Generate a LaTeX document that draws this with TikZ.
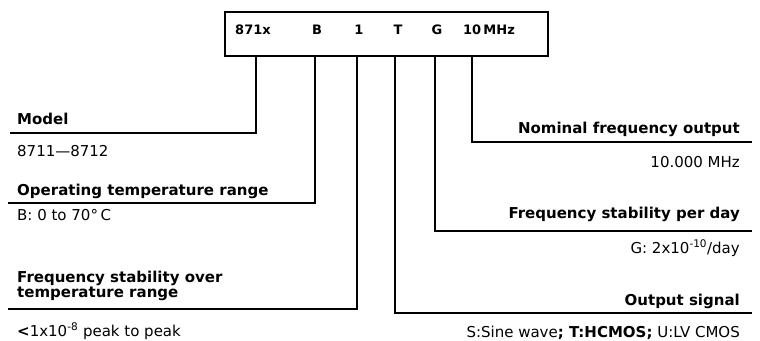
\documentclass[tikz,border=0pt]{standalone}
\usepackage{fontspec}
\setmainfont{DejaVu Sans}

\begin{document}
\begin{tikzpicture}[
    x=1pt, y=-1pt,
    codebox/.style={
        draw,
        line width=1.2pt,
        minimum width=323pt,
        minimum height=44pt,
        inner sep=0pt,
    },
    code/.style={
        font=\fontsize{13}{15}\selectfont\bfseries,
        inner sep=0pt,
        anchor=base,
    },
    title/.style={
        font=\fontsize{15}{15}\selectfont\bfseries,
        inner sep=0pt,
        align=left,
    },
    value/.style={
        font=\fontsize{15}{15}\selectfont,
        inner sep=0pt,
    },
    lin/.style={line width=1.2pt},
]
\useasboundingbox (0,0) rectangle (760,340);

\node[codebox] (box) at (386.5,34) {};
\node[code] (model) at (253,34) {871x};
\node[code] (temp) at (317,34) {B};
\node[code] (stab) at (359,34) {1};
\node[code] (out) at (398,34) {T};
\node[code] (day) at (437,34) {G};
\node[code] (freq) at (489,34) {10\,MHz};

\coordinate (t1) at (256,56);
\coordinate (t2) at (315,56);
\coordinate (t3) at (357,56);
\coordinate (t4) at (395,56);
\coordinate (t5) at (435,56);
\coordinate (t6) at (472,56);

\coordinate (e1) at (10,133);
\coordinate (e2) at (8,203);
\coordinate (e3) at (8,309);
\coordinate (e4) at (752,313);
\coordinate (e5) at (752,231);
\coordinate (e6) at (752,142);

\node[title, anchor=base west] (modelt) at (17,124) {Model};
\node[value, anchor=base west] (modelv) at (17,156) {8711—8712};

\node[title, anchor=base west] (tempt) at (17,195) {Operating temperature range};
\node[value, anchor=base west] (tempv) at (17,220) {B: 0 to 70°\,C};

\node[title, anchor=south west] (stabt) at (17,301)
    {Frequency stability over\\temperature range};
\node[value, anchor=base west] (stabv) at (17,336)
    {\textbf{<}1x10\textsuperscript{-8} peak to peak};

\node[title, anchor=base east] (freqt) at (740,133) {Nominal frequency output};
\node[value, anchor=base east] (freqv) at (740,167) {10.000 MHz};

\node[title, anchor=base east] (dayt) at (740,218) {Frequency stability per day};
\node[value, anchor=base east] (dayv) at (740,253) {G: 2x10\textsuperscript{-10}/day};

\node[title, anchor=base east] (outt) at (740,305) {Output signal};
\node[value, anchor=base east] (outv) at (740,337)
    {S:Sine wave\textbf{; T:HCMOS;} U:LV CMOS};

\draw[lin] (t1) |- (e1);
\draw[lin] (t2) |- (e2);
\draw[lin] (t3) |- (e3);
\draw[lin] (t4) |- (e4);
\draw[lin] (t5) |- (e5);
\draw[lin] (t6) |- (e6);

\end{tikzpicture}
\end{document}
